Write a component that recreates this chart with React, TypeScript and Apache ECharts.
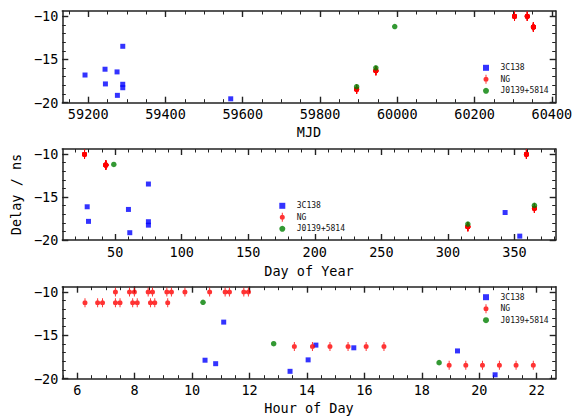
import React, { useEffect, useRef } from "react";
import * as echarts from "echarts";

// ---------------- data ----------------
const seriesNames = ["3C138", "NG", "J0139+5814"];

// 3C138 (blue squares)
const c138MJD = [59191.8, 59243.6, 59244.6, 59274.7, 59275.6, 59289.5, 59289.4, 59289.5, 59568.9];
const c138DOY = [343, 29, 30, 60, 61, 75, 75, 75, 354];
const c138Hour = [19.24, 14.31, 14.04, 15.63, 13.41, 11.1, 10.45, 10.82, 20.55];
const c138Delay = [-16.8, -16.13, -17.83, -16.44, -19.15, -13.48, -17.87, -18.27, -19.55];

// J0139+5814 (green circles)
const jMJD = [59894.8, 59944.5, 59993.4];
const jDOY = [315, 365, 49];
const jHour = [18.6, 12.84, 10.38];
const jDelay = [-18.15, -15.97, -11.2];

// NG (red, with error bars) — one entry per session
const ngSessionMJD = [60303.4, 60336.4, 60352.3, 59894.8, 59944.6];
const ngSessionDOY = [359, 27, 43, 315, 365];
const ngSessionDelay = [-10.0, -10.0, -11.25, -18.45, -16.3];
const ngSessionHours = [
  [7.33, 7.82, 7.99, 8.47, 8.62, 9.12, 9.28],
  [9.75, 10.61, 11.15, 11.3, 11.8, 11.96],
  [6.27, 6.71, 6.88, 7.33, 7.49, 7.93, 8.09, 8.55, 8.7, 9.15],
  [18.95, 19.53, 20.11, 20.7, 21.28, 21.88],
  [13.56, 14.19, 14.8, 15.43, 16.06, 16.68],
];

// tick labels
const mjdTicks = [59200, 59400, 59600, 59800, 60000, 60200, 60400];
const doyTicks = [50, 100, 150, 200, 250, 300, 350];
const hourTicks = [6, 8, 10, 12, 14, 16, 18, 20, 22];
const delayTicks = [-20, -15, -10];

// ---------------- helpers ----------------
const FONT = "'DejaVu Sans Mono', monospace";
const AX = "#222";
const COLORS = ["#0000ff", "#ff0000", "#008000"];
const SQUARE = "path://M0,0L10,0L10,10L0,10Z";
const NGSYM = "path://M-1,-9L1,-9L1,9L-1,9Z M-5,0A5,5 0 1,1 5,0A5,5 0 1,1 -5,0Z";

function steps(a: number, b: number, s: number) {
  const out: number[] = [];
  for (let v = a; v <= b + 1e-9; v += s) out.push(Math.round(v * 1000) / 1000);
  return out;
}
const fmt = (v: any) => String(v).replace("-", "\u2212");

const panels = [
  {
    name: "MJD", min: 59133, max: 60410, major: mjdTicks, minor: steps(59150, 60400, 50),
    top: 11, height: 91.7, nameGap: 22, labelMargin: 4, legendLeft: 483, legendTop: 63.8, yName: "",
  },
  {
    name: "Day of Year", min: 10.3, max: 381, major: doyTicks, minor: steps(20, 380, 10),
    top: 149, height: 91, nameGap: 23.5, labelMargin: 4.5, legendLeft: 279.3, legendTop: 201.8, yName: "Delay / ns",
  },
  {
    name: "Hour of Day", min: 5.48, max: 22.66, major: hourTicks, minor: steps(5.5, 22.5, 0.5),
    top: 286.7, height: 92, nameGap: 22.5, labelMargin: 4.5, legendLeft: 483, legendTop: 293.2, yName: "",
  },
];

const yMinor = steps(-20, -10, 1);

function buildOption() {
  const grid: any[] = [];
  const xAxis: any[] = [];
  const yAxis: any[] = [];
  const series: any[] = [];
  const legend: any[] = [];

  const ngPts = (field: "mjd" | "doy" | "hour") => {
    const pts: number[][] = [];
    ngSessionHours.forEach((hours, i) => {
      hours.forEach((h) => {
        const x = field === "mjd" ? ngSessionMJD[i] : field === "doy" ? ngSessionDOY[i] : h;
        pts.push([x, ngSessionDelay[i]]);
      });
    });
    return pts;
  };
  const zip = (xs: number[], ys: number[]) => xs.map((x, i) => [x, ys[i]]);

  panels.forEach((p, gi) => {
    grid.push({ left: 62.3, right: 26.3, top: p.top, height: p.height, containLabel: false });
    const lineOn = { show: true, onZero: false, lineStyle: { color: AX, width: 1.5 } };
    const lineOff = { show: false, onZero: false };
    const mk = (position: string, ticks: number[], len: number, withLine: boolean, withLabel: boolean, isX: boolean) => {
      const ax: any = {
        type: "value",
        gridIndex: gi,
        position,
        min: isX ? p.min : -20,
        max: isX ? p.max : -9.4,
        splitLine: { show: false },
        axisLine: withLine ? lineOn : lineOff,
        axisTick: {
          show: true, inside: true, length: len, customValues: ticks,
          lineStyle: { color: AX, width: len > 4 ? 1.4 : 1 },
        },
        axisLabel: {
          show: withLabel, customValues: ticks, margin: isX ? p.labelMargin : 4,
          fontFamily: FONT, fontSize: 13.5, color: "#000", formatter: fmt,
        },
      };
      if (withLabel && isX) {
        ax.name = p.name;
        ax.nameLocation = "middle";
        ax.nameGap = p.nameGap;
        ax.nameTextStyle = { fontFamily: FONT, fontSize: 13.5, color: "#000" };
      }
      if (withLabel && !isX && p.yName) {
        ax.name = p.yName;
        ax.nameLocation = "middle";
        ax.nameGap = 32.5;
        ax.nameTextStyle = { fontFamily: FONT, fontSize: 13.5, color: "#000" };
      }
      return ax;
    };
    // x axes: bottom major (labels), bottom minor, top major, top minor
    xAxis.push(mk("bottom", p.major, 6, true, true, true));
    xAxis.push(mk("bottom", p.minor, 3.5, false, false, true));
    xAxis.push(mk("top", p.major, 6, true, false, true));
    xAxis.push(mk("top", p.minor, 3.5, false, false, true));
    // y axes
    yAxis.push(mk("left", delayTicks, 6, true, true, false));
    yAxis.push(mk("left", yMinor, 3.5, false, false, false));
    yAxis.push(mk("right", delayTicks, 6, true, false, false));
    yAxis.push(mk("right", yMinor, 3.5, false, false, false));

    const xi = gi * 4;
    const yi = gi * 4;
    const field = gi === 0 ? "mjd" : gi === 1 ? "doy" : "hour";
    const bx = gi === 0 ? c138MJD : gi === 1 ? c138DOY : c138Hour;
    const jx = gi === 0 ? jMJD : gi === 1 ? jDOY : jHour;

    series.push({
      type: "scatter", name: seriesNames[0], xAxisIndex: xi, yAxisIndex: yi,
      symbol: SQUARE, symbolSize: 5, itemStyle: { color: COLORS[0] },
      data: zip(bx, c138Delay),
    });
    series.push({
      type: "scatter", name: seriesNames[1], xAxisIndex: xi, yAxisIndex: yi,
      symbol: NGSYM, symbolSize: [5, 9], itemStyle: { color: COLORS[1] },
      data: ngPts(field as any),
    });
    series.push({
      type: "scatter", name: seriesNames[2], xAxisIndex: xi, yAxisIndex: yi,
      symbol: "circle", symbolSize: 5.5, itemStyle: { color: COLORS[2] },
      data: zip(jx, jDelay),
    });

    legend.push({
      orient: "vertical",
      left: p.legendLeft,
      top: p.legendTop,
      padding: 0,
      itemWidth: 6,
      itemHeight: 9,
      itemGap: 3,
      selectedMode: false,
      textStyle: { fontFamily: FONT, fontSize: 8, color: "#111", padding: [0, 0, 0, 6.5] },
      data: [
        { name: seriesNames[0], icon: SQUARE },
        { name: seriesNames[1], icon: NGSYM },
        { name: seriesNames[2], icon: "circle" },
      ],
    });
  });

  return {
    animation: false,
    backgroundColor: "#fff",
    grid,
    xAxis,
    yAxis,
    legend,
    series,
  };
}

export default function App() {
  const ref = useRef<HTMLDivElement>(null);
  useEffect(() => {
    if (!ref.current) return;
    const chart = echarts.init(ref.current, undefined, { renderer: "svg" });
    chart.setOption(buildOption() as any);
    return () => chart.dispose();
  }, []);
  return (
    <div
      ref={ref}
      style={{ position: "absolute", left: 0, top: 0, width: 582, height: 417, background: "#fff" }}
    />
  );
}
